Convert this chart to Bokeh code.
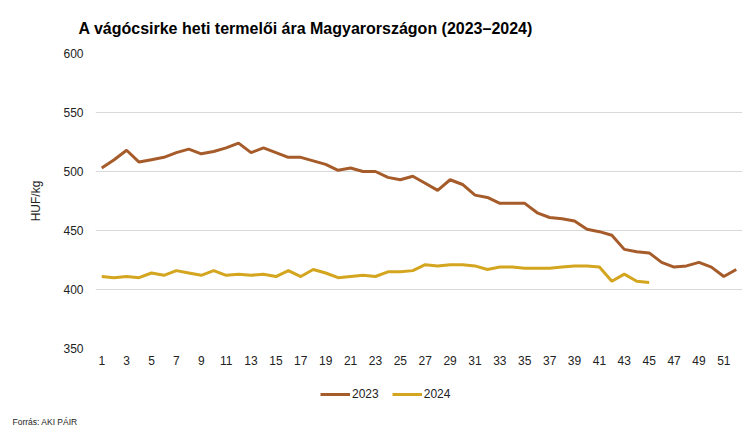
from bokeh.plotting import figure
from bokeh.layouts import column
from bokeh.models import Range1d, FixedTicker, Legend, LegendItem, Title, ColumnDataSource
from bokeh.embed import file_html
from bokeh.resources import INLINE

weeks_2023 = list(range(1, 53))
price_2023 = [503, 510, 518, 508, 510, 512, 516, 519, 515, 517, 520, 524, 516, 520,
              516, 512, 512, 509, 506, 501, 503, 500, 500, 495, 493, 496, 490, 484,
              493, 489, 480, 478, 473, 473, 473, 465, 461, 460, 458, 451, 449, 446,
              434, 432, 431, 423, 419, 420, 423, 419, 411, 417]
weeks_2024 = list(range(1, 46))
price_2024 = [411, 410, 411, 410, 414, 412, 416, 414, 412, 416, 412, 413, 412, 413,
              411, 416, 411, 417, 414, 410, 411, 412, 411, 415, 415, 416, 421, 420,
              421, 421, 420, 417, 419, 419, 418, 418, 418, 419, 420, 420, 419, 407,
              413, 407, 406]
x_ticks = list(range(1, 52, 2))
y_ticks = [350, 400, 450, 500, 550, 600]

FONT = "Liberation Sans"
C23 = "#A65C2A"
C24 = "#D4A51F"

p = figure(width=745, height=372, output_backend="svg", toolbar_location=None,
           x_range=Range1d(0.5, 52.5), y_range=Range1d(350, 600),
           min_border_left=95, min_border_right=3, min_border_top=53, min_border_bottom=24)
p.outline_line_color = None
p.background_fill_color = "white"
p.border_fill_color = "white"

p.xgrid.grid_line_color = None
p.ygrid.grid_line_color = "#D9D9D9"
p.ygrid.grid_line_width = 1
p.yaxis.ticker = FixedTicker(ticks=y_ticks)
p.xaxis.ticker = FixedTicker(ticks=x_ticks)
for ax in (p.xaxis, p.yaxis):
    ax.axis_line_color = None
    ax.major_tick_line_color = None
    ax.minor_tick_line_color = None
    ax.major_tick_out = 0
    ax.major_tick_in = 0
    ax.minor_tick_out = 0
    ax.major_label_text_font = FONT
    ax.major_label_text_font_size = "12px"
    ax.major_label_text_color = "#222222"
p.xaxis.major_label_standoff = 7
p.yaxis.major_label_standoff = 12
p.yaxis.axis_label = "HUF/kg"
p.yaxis.axis_label_text_font = FONT
p.yaxis.axis_label_text_font_size = "12px"
p.yaxis.axis_label_text_font_style = "normal"
p.yaxis.axis_label_text_color = "#222222"
p.yaxis.axis_label_standoff = 17

s23 = ColumnDataSource(dict(x=weeks_2023, y=price_2023))
s24 = ColumnDataSource(dict(x=weeks_2024, y=price_2024))
p.line("x", "y", source=s23, line_color=C23, line_width=3)
p.line("x", "y", source=s24, line_color=C24, line_width=3)

p.title = Title(text="A vágócsirke heti termelői ára Magyarországon (2023–2024)",
                text_font=FONT, text_font_size="16px", text_font_style="bold",
                text_color="black", align="left", offset=-17, standoff=29,
                vertical_align="top")

# legend / source strip below the chart (frame aligned with the chart's frame)
p2 = figure(width=745, height=56, output_backend="svg", toolbar_location=None,
            x_range=Range1d(0, 1), y_range=Range1d(0, 1),
            min_border_left=95, min_border_right=3, min_border_top=0, min_border_bottom=14)
p2.axis.visible = False
p2.grid.visible = False
p2.outline_line_color = None
p2.border_fill_color = "white"
p2.background_fill_color = "white"
# legend-only renderers, their points lie outside the visible range
l23 = p2.line(x=[5, 6], y=[5, 5], line_color=C23, line_width=3)
l24 = p2.line(x=[5, 6], y=[5, 5], line_color=C24, line_width=3)
legend = Legend(items=[LegendItem(label="2023", renderers=[l23]),
                       LegendItem(label="2024", renderers=[l24])],
                orientation="horizontal", location=(225, 13),
                label_text_font=FONT, label_text_font_size="12px",
                label_text_color="#222222",
                glyph_width=30, glyph_height=12, label_standoff=2, spacing=13,
                padding=0, margin=0, border_line_color=None,
                background_fill_alpha=0)
p2.add_layout(legend)
foot = Title(text="Forrás: AKI PÁIR", text_font=FONT, text_font_size="8.5px",
             text_font_style="normal", text_color="#222222", align="left",
             offset=-83, standoff=0)
p2.add_layout(foot, "below")

layout = column(p, p2, spacing=0)
open("out.html", "w").write(file_html(layout, INLINE))
